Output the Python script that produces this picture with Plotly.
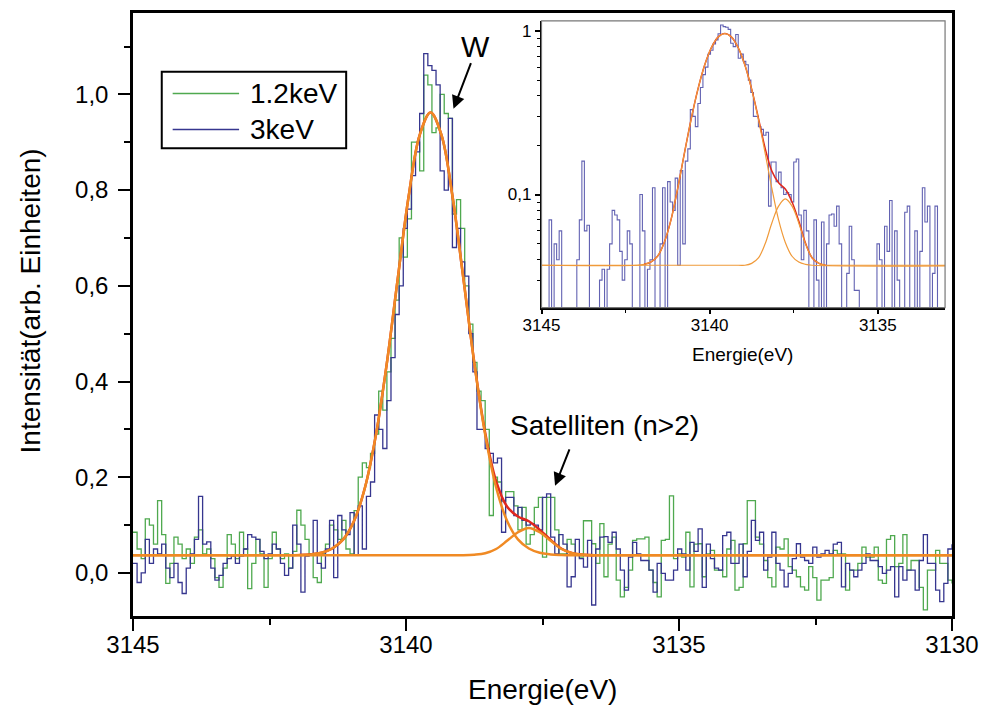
import plotly.graph_objects as go
import numpy as np

# ---- measured spectra (bins of 0.075 eV from 3145 eV down to 3130 eV) ----
int_1p2kev = [
    0.085, 0.05, 0.03, 0.113, 0.10, 0.06, 0.151, 0.08, -0.022, 0.02,
    0.075, 0.06, 0.03, 0.05, 0.02, 0.075, 0.09, 0.04, 0.05, 0.03,
    -0.01, -0.03, 0.01, 0.08, 0.06, 0.03, 0.085, 0.05, -0.033, 0.02,
    0.07, 0.04, -0.03, 0.03, 0.085, 0.05, 0.03, 0.04, 0.01, 0.045,
    0.131, 0.10, 0.07, 0.04, -0.01, -0.02, 0.04, 0.06,
    0.10, 0.09, 0.07, 0.11, 0.05, 0.04, 0.13, 0.20, 0.23, 0.22,
    0.25, 0.29, 0.38, 0.34, 0.42, 0.49, 0.57, 0.70, 0.66, 0.74,
    0.90, 0.90, 0.84, 1.04, 1.02, 0.92, 0.93, 1.00, 0.96, 0.95,
    0.75, 0.78, 0.72, 0.60, 0.52, 0.44, 0.38,
    0.36, 0.30, 0.12, 0.20, 0.19, 0.15, 0.17, 0.17, 0.14, 0.09,
    0.137, 0.06, 0.08, 0.137, 0.158, 0.033, 0.158, 0.158, 0.09, 0.04,
    0.04, 0.07, 0.06, 0.04, 0.033, 0.109, 0.109, 0.061,
    0.02, 0.103, -0.008, 0.06, 0.075, -0.015, -0.05, -0.03, 0.006, 0.068,
    0.071, 0.071, 0.075, 0.006, -0.02, -0.05, 0.068, 0.07, 0.161, 0.03,
    0.04, 0.033, 0.085, -0.029, 0.06, 0.061, -0.008, 0.04, 0.047, 0.006,
    0.006, -0.008, 0.05, 0.068, -0.036, -0.03, 0.061, 0.151, 0.151, 0.075,
    0.06, 0.026, -0.01,
    -0.029, 0.054, 0.05, 0.071, 0.013, 0.006, -0.008, -0.029, -0.036, 0.013,
    -0.01, -0.057, -0.015, -0.015, -0.01, 0.047, 0.04, 0.04, -0.036, 0.006,
    0.006, 0.02, 0.054, 0.033, 0.033, 0.054, -0.015, -0.022, 0.07, 0.078,
    0.013, 0.02, 0.08, 0.006, 0.026, 0.026, -0.03, -0.077, 0.006, 0.006,
    0.047, 0.02, 0.02, -0.015, -0.022,
]

int_3kev = [
    0.02, -0.02, 0.00, 0.07, 0.02, 0.05, 0.04, 0.06, 0.01, -0.01,
    0.02, -0.02, -0.043, 0.01, 0.04, 0.07, 0.16, 0.06, 0.065, 0.01,
    -0.015, -0.005, 0.02, 0.03, 0.035, 0.02, 0.035, 0.05, 0.08, 0.075,
    0.07, 0.045, 0.03, 0.04, 0.06, 0.05, 0.02, -0.005, 0.01, 0.10,
    0.06, -0.04, 0.035, 0.04, 0.11, 0.02, 0.01, 0.05,
    0.11, -0.01, 0.12, 0.09, 0.08, 0.126, 0.037, 0.14, 0.05, 0.16,
    0.19, 0.33, 0.30, 0.26, 0.36, 0.45, 0.54, 0.60, 0.72, 0.76,
    0.83, 0.88, 0.96, 1.085, 1.06, 1.05, 1.02, 0.84, 0.80, 0.95,
    0.68, 0.72, 0.65, 0.62, 0.50, 0.42, 0.30,
    0.30, 0.26, 0.25, 0.23, 0.24, 0.085, 0.158, 0.158, 0.12, 0.137,
    0.11, 0.10, 0.103, 0.10, 0.09, 0.158, 0.165, 0.075, 0.04, 0.08,
    0.06, -0.029, -0.008, 0.07, 0.03, 0.012, 0.068, -0.067,
    0.05, 0.075, 0.076, 0.064, 0.085, 0.05, 0.006, -0.036, 0.033, 0.064,
    0.04, 0.026, 0.026, 0.006, -0.04, 0.02, -0.001, -0.015, -0.015, 0.006,
    0.05, 0.04, 0.006, 0.064, 0.045, 0.092, -0.03, 0.06, 0.03, 0.01,
    0.006, 0.078, 0.085, 0.02, 0.02, 0.06, -0.008, 0.045, 0.11, 0.068,
    0.085, 0.006, 0.033,
    0.085, 0.02, 0.006, -0.029, -0.001, 0.03, 0.061, 0.033, 0.026, 0.02,
    0.054, 0.033, 0.04, 0.047, 0.04, 0.06, 0.064, -0.029, 0.02, 0.006,
    -0.008, 0.006, 0.02, 0.04, 0.026, 0.026, 0.013, -0.001, 0.006, 0.013,
    -0.05, 0.013, -0.015, 0.006, 0.006, -0.036, 0.026, 0.08, 0.02, 0.02,
    -0.036, -0.06, -0.022, 0.05, 0.06,
]

energy = np.linspace(3145.0, 3130.0, len(int_3kev))

# ---- fit curves: W line (incl. constant background), satellite, sum ----
fit_w_x = [3145, 3142.15, 3141.95, 3141.75, 3141.55, 3141.35, 3141.15, 3140.95,
           3140.75, 3140.55, 3140.35, 3140.15, 3139.95, 3139.75, 3139.55, 3139.35,
           3139.15, 3138.95, 3138.75, 3138.55, 3138.35, 3138.15, 3137.95, 3137.75,
           3137.55, 3137.35, 3137.15, 3136.95, 3130]
fit_w_y = [0.037, 0.037, 0.0375, 0.0387, 0.042, 0.051, 0.070, 0.109,
           0.179, 0.289, 0.439, 0.616, 0.788, 0.915, 0.962, 0.915,
           0.788, 0.616, 0.439, 0.289, 0.179, 0.109, 0.070, 0.051,
           0.042, 0.0387, 0.0375, 0.037, 0.037]

fit_sat_x = [3145, 3139.15, 3138.95, 3138.75, 3138.55, 3138.35, 3138.15, 3137.95,
             3137.75, 3137.55, 3137.35, 3137.15, 3136.95, 3136.75, 3136.55,
             3136.35, 3130]
fit_sat_y = [0.037, 0.037, 0.037, 0.038, 0.041, 0.050, 0.067, 0.085,
             0.094, 0.085, 0.067, 0.050, 0.041, 0.038, 0.037,
             0.037, 0.037]

fit_sum_x = [3141.95, 3141.75, 3141.55, 3141.35, 3141.15, 3140.95, 3140.75, 3140.55,
             3140.35, 3140.15, 3139.95, 3139.75, 3139.55, 3139.35, 3139.15, 3138.95,
             3138.75, 3138.55, 3138.35, 3138.15, 3137.95, 3137.75, 3137.55, 3137.35,
             3137.15, 3136.95, 3136.75, 3136.55]
fit_sum_y = [0.0375, 0.0387, 0.042, 0.051, 0.070, 0.109, 0.179, 0.289,
             0.439, 0.616, 0.788, 0.915, 0.962, 0.915, 0.788, 0.616,
             0.440, 0.293, 0.192, 0.139, 0.118, 0.108, 0.090, 0.069,
             0.0505, 0.041, 0.038, 0.037]

series_names = ["1.2keV", "3keV"]
y_ticks = [0.0, 0.2, 0.4, 0.6, 0.8, 1.0]
y_ticktext = ["0,0", "0,2", "0,4", "0,6", "0,8", "1,0"]
x_ticks = [3145, 3140, 3135, 3130]

GREEN = "#4fa94f"
BLUE = "#36368f"
ORANGE = "#f08a24"
ORANGE_THIN = "#f09a3a"
RED = "#e0281e"
FONT = "Liberation Sans, Arial, sans-serif"

W_FIG, H_FIG = 989, 711
L, R, T, B = 133, 30, 10, 95
PW, PH = W_FIG - L - R, H_FIG - T - B


def px(xp):
    return (xp - L) / PW


def py(yp):
    return (H_FIG - B - yp) / PH


fig = go.Figure()

# main panel
fig.add_trace(go.Scatter(x=energy, y=int_1p2kev, mode="lines", line_shape="hv",
                         line=dict(color=GREEN, width=1.3), name=series_names[0]))
fig.add_trace(go.Scatter(x=energy, y=int_3kev, mode="lines", line_shape="hv",
                         line=dict(color=BLUE, width=1.3), name=series_names[1]))
fig.add_trace(go.Scatter(x=fit_sum_x, y=fit_sum_y, mode="lines", line_shape="spline",
                         line=dict(color=RED, width=2.5)))
fig.add_trace(go.Scatter(x=fit_sat_x, y=fit_sat_y, mode="lines", line_shape="spline",
                         line=dict(color=ORANGE, width=2.5)))
fig.add_trace(go.Scatter(x=fit_w_x, y=fit_w_y, mode="lines", line_shape="spline",
                         line=dict(color=ORANGE, width=2.5)))

# inset (log scale); non-positive counts are pushed below the visible range
inset_vals = [max(v, 0.004) for v in int_3kev]
fig.add_trace(go.Scatter(x=energy, y=inset_vals, mode="lines", line_shape="hv",
                         line=dict(color="rgba(70,70,165,0.85)", width=1.1),
                         xaxis="x2", yaxis="y2"))
fig.add_trace(go.Scatter(x=fit_sum_x, y=fit_sum_y, mode="lines", line_shape="spline",
                         line=dict(color=RED, width=1.5), xaxis="x2", yaxis="y2"))
fig.add_trace(go.Scatter(x=fit_sat_x, y=fit_sat_y, mode="lines", line_shape="spline",
                         line=dict(color=ORANGE_THIN, width=1.2), xaxis="x2", yaxis="y2"))
fig.add_trace(go.Scatter(x=fit_w_x, y=fit_w_y, mode="lines", line_shape="spline",
                         line=dict(color=ORANGE_THIN, width=1.2), xaxis="x2", yaxis="y2"))

ix0, ix1, iy0, iy1 = 545, 952, 18, 306

fig.update_layout(
    width=W_FIG, height=H_FIG,
    margin=dict(l=L, r=R, t=T, b=B),
    paper_bgcolor="white", plot_bgcolor="white",
    font=dict(family=FONT, color="black"),
    showlegend=False,
    xaxis=dict(range=[3145, 3130], tickmode="array", tickvals=x_ticks,
               ticks="outside", ticklen=12, tickwidth=2, tickcolor="black",
               ticklabelstandoff=-7,
               showline=True, linecolor="black", linewidth=2.5, mirror=True,
               showgrid=False, zeroline=False, tickfont=dict(size=24),
               minor=dict(tickmode="array", tickvals=[3142.5, 3137.5, 3132.5],
                          ticks="outside", ticklen=6, tickwidth=2, tickcolor="black")),
    yaxis=dict(range=[-0.09, 1.17], tickmode="array", tickvals=y_ticks,
               ticktext=y_ticktext, ticks="outside", ticklen=12, tickwidth=2,
               ticklabelstandoff=5,
               tickcolor="black", showline=True, linecolor="black", linewidth=2.5,
               mirror=True, showgrid=False, zeroline=False, tickfont=dict(size=24),
               minor=dict(tickmode="array", tickvals=[0.1, 0.3, 0.5, 0.7, 0.9, 1.1],
                          ticks="outside", ticklen=6, tickwidth=2, tickcolor="black")),
    xaxis2=dict(domain=[px(ix0), px(ix1)], anchor="y2", range=[3145, 3133],
                tickmode="array", tickvals=[3145, 3140, 3135], ticks="outside",
                ticklen=5, tickwidth=1.5, tickcolor="black", showline=True,
                ticklabelstandoff=-4,
                linecolor="black", linewidth=1.5, showgrid=False, zeroline=False,
                tickfont=dict(size=17),
                minor=dict(tickmode="array", tickvals=[3142.5, 3137.5],
                           ticks="outside", ticklen=4, tickwidth=1.2, tickcolor="black")),
    yaxis2=dict(domain=[py(iy1), py(iy0)], anchor="x2", type="log",
                range=[-1.69, 0.06], tickmode="array", tickvals=[0.1, 1],
                ticktext=["0,1", "1"], ticks="outside", ticklen=5, tickwidth=1.5,
                tickcolor="black", showline=True, linecolor="black", linewidth=1.5,
                showgrid=False, zeroline=False, tickfont=dict(size=17),
                minor=dict(tickmode="array",
                           tickvals=[0.03, 0.04, 0.05, 0.06, 0.07, 0.08, 0.09,
                                     0.2, 0.3, 0.4, 0.5, 0.6, 0.7, 0.8, 0.9],
                           ticks="outside", ticklen=3, tickwidth=1.2, tickcolor="black")),
)

shapes = [
    # inset frame (top/right edges)
    dict(type="rect", xref="paper", yref="paper", x0=px(ix0), x1=px(ix1),
         y0=py(iy1), y1=py(iy0), line=dict(color="#777777", width=1.2), layer="above"),
    # legend box
    dict(type="rect", xref="paper", yref="paper", x0=px(162), x1=px(348),
         y0=py(146), y1=py(69), line=dict(color="black", width=2),
         fillcolor="white", layer="above"),
    dict(type="line", xref="paper", yref="paper", x0=px(173), x1=px(240),
         y0=py(91), y1=py(91), line=dict(color=GREEN, width=1.5), layer="above"),
    dict(type="line", xref="paper", yref="paper", x0=px(173), x1=px(240),
         y0=py(127), y1=py(127), line=dict(color=BLUE, width=1.5), layer="above"),
]
fig.update_layout(shapes=shapes)

annotations = [
    dict(text=series_names[0], xref="paper", yref="paper", x=px(249), y=py(91),
         xanchor="left", yanchor="middle", showarrow=False, font=dict(size=28)),
    dict(text=series_names[1], xref="paper", yref="paper", x=px(249), y=py(127),
         xanchor="left", yanchor="middle", showarrow=False, font=dict(size=28)),
    # axis titles
    dict(text="Energie(eV)", xref="paper", yref="paper", x=px(546), y=py(690),
         xanchor="center", yanchor="middle", showarrow=False, font=dict(size=28)),
    dict(text="Intensität(arb. Einheiten)", xref="paper", yref="paper", x=px(30),
         y=py(299), xanchor="center", yanchor="middle", textangle=-90,
         showarrow=False, font=dict(size=28)),
    dict(text="Energie(eV)", xref="paper", yref="paper", x=px(748), y=py(353),
         xanchor="center", yanchor="middle", showarrow=False, font=dict(size=19)),
    # line labels with arrows
    dict(text="W", xref="paper", yref="paper", x=px(478), y=py(44),
         xanchor="center", yanchor="middle", showarrow=False, font=dict(size=30)),
    dict(x=3139.13, y=0.970, xref="x", yref="y", ax=18, ay=-47, text="",
         showarrow=True, arrowhead=2, arrowsize=1.3, arrowwidth=2, arrowcolor="black"),
    dict(text="Satelliten (n>2)", xref="paper", yref="paper", x=px(609), y=py(425),
         xanchor="center", yanchor="middle", showarrow=False, font=dict(size=28)),
    dict(x=3137.27, y=0.182, xref="x", yref="y", ax=15, ay=-38, text="",
         showarrow=True, arrowhead=2, arrowsize=1.3, arrowwidth=2, arrowcolor="black"),
]
fig.update_layout(annotations=annotations)

fig.write_html("out.html")
